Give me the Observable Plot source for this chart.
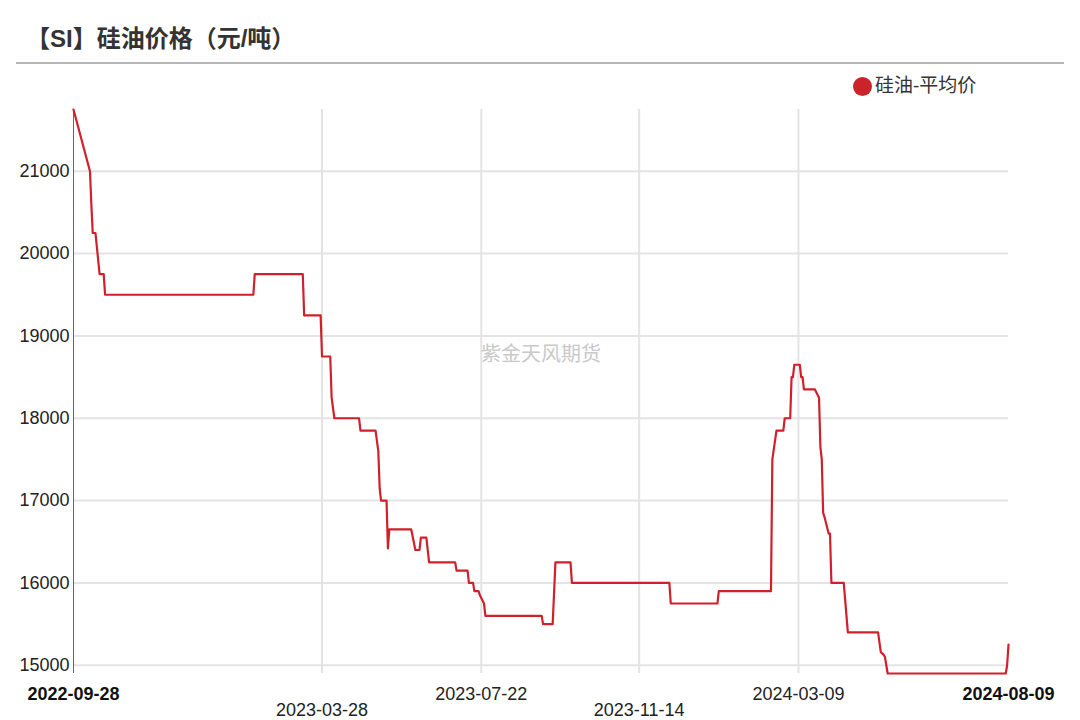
<!DOCTYPE html>
<html>
<head>
<meta charset="utf-8">
<script src="https://cdn.jsdelivr.net/npm/d3@7"></script>
<script src="https://cdn.jsdelivr.net/npm/@observablehq/plot@0.6"></script>
<style>
  body { margin: 0; background: #fff; }
  #wrap { position: relative; width: 1080px; height: 720px; overflow: hidden; font-family: "Liberation Sans", "Noto Sans CJK SC", sans-serif; }
  #title { position: absolute; left: 26px; top: 27px; font-size: 24px; line-height: 24px; font-weight: bold; color: #333; white-space: nowrap; }
  #rule { position: absolute; left: 16px; top: 62px; width: 1048px; height: 2px; background: #b5b5b5; }
  #legend { position: absolute; left: 853px; top: 76px; display: flex; align-items: center; font-size: 19px; line-height: 20px; color: #333; }
  #legend .dot { width: 19px; height: 19px; border-radius: 50%; background: #cc2229; margin-right: 3px; }
  #chart { position: absolute; left: 0; top: 100px; }
</style>
</head>
<body>
<div id="wrap">
  <div id="title">【SI】硅油价格（元/吨）</div>
  <div id="rule"></div>
  <div id="legend"><span class="dot"></span><span id="legendText"></span></div>
  <div id="chart"></div>
</div>
<script>
const seriesName = "硅油-平均价";
const watermark = "紫金天风期货";

const dates = [
  "2022-09-28","2022-10-10","2022-10-11","2022-10-12","2022-10-14","2022-10-17","2022-10-20","2022-10-21",
  "2023-02-06","2023-02-07","2023-03-14","2023-03-15","2023-03-27","2023-03-28","2023-04-03","2023-04-04",
  "2023-04-06","2023-04-24","2023-04-25","2023-05-06","2023-05-08","2023-05-09","2023-05-10","2023-05-14",
  "2023-05-15","2023-05-16","2023-06-01","2023-06-04","2023-06-07","2023-06-08","2023-06-12","2023-06-14",
  "2023-07-03","2023-07-04","2023-07-12","2023-07-13","2023-07-16","2023-07-17","2023-07-20","2023-07-21",
  "2023-07-24","2023-07-25","2023-09-04","2023-09-05","2023-09-12","2023-09-14","2023-09-25","2023-09-26",
  "2023-12-06","2023-12-07","2024-01-10","2024-01-11","2024-02-18","2024-02-19","2024-02-22","2024-02-27",
  "2024-02-28","2024-03-03","2024-03-04","2024-03-05","2024-03-06","2024-03-10","2024-03-11","2024-03-12",
  "2024-03-13","2024-03-21","2024-03-24","2024-03-25","2024-03-26","2024-03-27","2024-03-28","2024-03-31",
  "2024-04-01","2024-04-02","2024-04-11","2024-04-14","2024-05-06","2024-05-08","2024-05-10","2024-05-11",
  "2024-05-13","2024-08-07","2024-08-08","2024-08-09"
];
const prices = [
  21750,21000,20600,20250,20250,19750,19750,19500,
  19500,19750,19750,19250,19250,18750,18750,18250,
  18000,18000,17850,17850,17600,17150,17000,17000,
  16420,16650,16650,16400,16400,16550,16550,16250,
  16250,16150,16150,16000,16000,15900,15900,15850,
  15750,15600,15600,15500,15500,16250,16250,16000,
  16000,15750,15750,15900,15900,17500,17850,17850,
  18000,18000,18500,18500,18650,18650,18500,18500,
  18350,18350,18250,17650,17500,16850,16800,16600,
  16600,16000,16000,15400,15400,15160,15130,15100,
  14900,14900,15000,15250
];

const yTicks = [15000, 16000, 17000, 18000, 19000, 20000, 21000];
const xTickLabels = ["2022-09-28","2023-03-28","2023-07-22","2023-11-14","2024-03-09","2024-08-09"];
const xTickRow = [0, 1, 0, 1, 0, 0];
const xTickBold = [1, 0, 0, 0, 0, 1];

document.getElementById("legendText").textContent = seriesName;

const parse = d3.utcParse("%Y-%m-%d");
const data = dates.map((d, i) => ({date: parse(d), price: prices[i]}));
const ticks = xTickLabels.map(parse);
const fmt = d3.utcFormat("%Y-%m-%d");
const pick = (row, bold) => ticks.filter((t, i) => xTickRow[i] === row && xTickBold[i] === bold);
const innerTicks = ticks.slice(1, -1);

const chart = Plot.plot({
  width: 1080,
  height: 620,
  marginTop: 9,
  marginBottom: 47,
  marginLeft: 73,
  marginRight: 72,
  style: {fontFamily: "'Liberation Sans', 'Noto Sans CJK SC', sans-serif", fontSize: "18px", color: "#222", background: "transparent"},
  x: {type: "utc", domain: [ticks[0], ticks[ticks.length - 1]]},
  y: {domain: [14900, 21750]},
  marks: [
    Plot.gridY(yTicks, {stroke: "#e4e4e4", strokeOpacity: 1, strokeWidth: 2}),
    Plot.gridX(innerTicks, {stroke: "#e4e4e4", strokeOpacity: 1, strokeWidth: 2}),
    Plot.ruleX([ticks[0]], {stroke: "#666", strokeWidth: 1}),
    Plot.axisY(yTicks, {tickSize: 0, tickPadding: 4, fontSize: 18, label: null, tickFormat: d => String(d), fill: "#222"}),
    Plot.axisX(pick(0, 0), {tickSize: 0, tickPadding: 14, fontSize: 18, label: null, tickFormat: fmt, fill: "#222"}),
    Plot.axisX(pick(1, 0), {tickSize: 0, tickPadding: 29.5, fontSize: 18, label: null, tickFormat: fmt, fill: "#222"}),
    Plot.axisX(pick(0, 1), {tickSize: 0, tickPadding: 14, fontSize: 18, fontWeight: "bold", label: null, tickFormat: fmt, fill: "#111"}),
    Plot.text([watermark], {frameAnchor: "middle", dy: -37, fontSize: 20, fill: "#c9c9c9", fontFamily: "'Noto Sans CJK SC', sans-serif"}),
    Plot.line(data, {x: "date", y: "price", stroke: "#d0212a", strokeWidth: 2.2})
  ]
});
document.getElementById("chart").appendChild(chart);
</script>
</body>
</html>
